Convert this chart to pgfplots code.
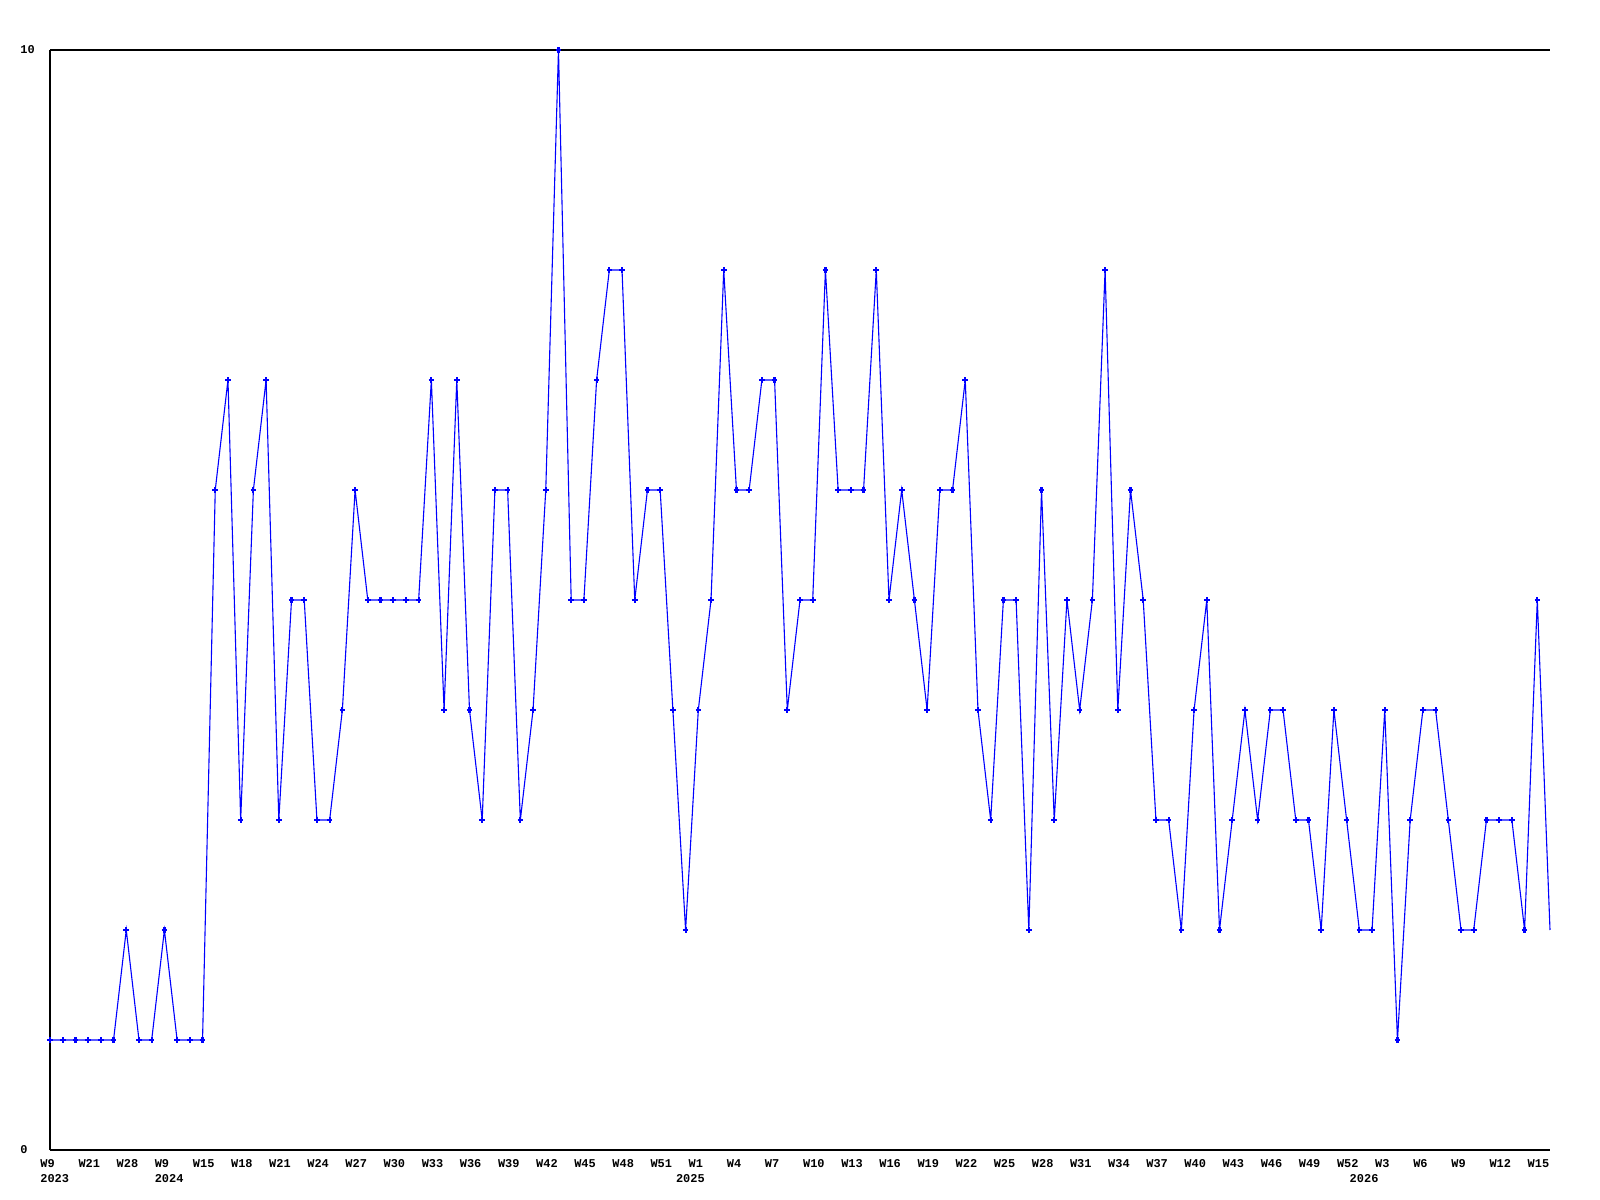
\documentclass[border=0pt]{standalone}
\usepackage{pgfplots}
\pgfplotsset{compat=1.18}
\usepackage{pgfplotstable}
\usepackage{fontspec}
\setmainfont{Liberation Mono}
\definecolor{lineblue}{RGB}{0,0,255}
\pgfplotstableread{
x y
0 1
1 1
2 1
3 1
4 1
5 1
6 2
7 1
8 1
9 2
10 1
11 1
12 1
13 6
14 7
15 3
16 6
17 7
18 3
19 5
20 5
21 3
22 3
23 4
24 6
25 5
26 5
27 5
28 5
29 5
30 7
31 4
32 7
33 4
34 3
35 6
36 6
37 3
38 4
39 6
40 10
41 5
42 5
43 7
44 8
45 8
46 5
47 6
48 6
49 4
50 2
51 4
52 5
53 8
54 6
55 6
56 7
57 7
58 4
59 5
60 5
61 8
62 6
63 6
64 6
65 8
66 5
67 6
68 5
69 4
70 6
71 6
72 7
73 4
74 3
75 5
76 5
77 2
78 6
79 3
80 5
81 4
82 5
83 8
84 4
85 6
86 5
87 3
88 3
89 2
90 4
91 5
92 2
93 3
94 4
95 3
96 4
97 4
98 3
99 3
100 2
101 4
102 3
103 2
104 2
105 4
106 1
107 3
108 4
109 4
110 3
111 2
112 2
113 3
114 3
115 3
116 2
117 5
118 2
}\datatable
\begin{document}
\begin{tikzpicture}
\path[use as bounding box] (0,0) rectangle (800bp,600bp);
\begin{axis}[
  at={(25bp,25bp)}, anchor=south west,
  scale only axis, width=750bp, height=550bp,
  xmin=0, xmax=118, ymin=0, ymax=10,
  axis lines=left, axis line style={-, black, line width=0.55bp},
  ymajorgrids, grid style={black, line width=0.55bp},
  major tick length=0pt,
  ytick={0,10},
  xtick={0,3,...,117},
  xticklabels={W9,W21,W28,W9,W15,W18,W21,W24,W27,W30,W33,W36,W39,W42,W45,W48,W51,W1,W4,W7,W10,W13,W16,W19,W22,W25,W28,W31,W34,W37,W40,W43,W46,W49,W52,W3,W6,W9,W12,W15},
  extra x ticks={0,9,50,103},
  extra x tick labels={2023,2024,2025,2026},
  extra x tick style={xticklabel style={yshift=-7.8bp}},
  /pgf/number format/assume math mode=true,
  tick label style={font=\fontsize{6}{8}\selectfont\bfseries},
  xticklabel style={anchor=north west, inner sep=0pt, xshift=-5bp, yshift=-4.5bp},
  yticklabel style={anchor=west, inner sep=0pt, xshift=-15bp},
  clip=false,
]
\addplot[lineblue, line width=0.55bp, mark=+, mark size=1.4bp,
  mark options={line width=1.1bp}, mark indices={1,...,118}] table[x=x, y=y] {\datatable};
\end{axis}
\end{tikzpicture}
\end{document}
